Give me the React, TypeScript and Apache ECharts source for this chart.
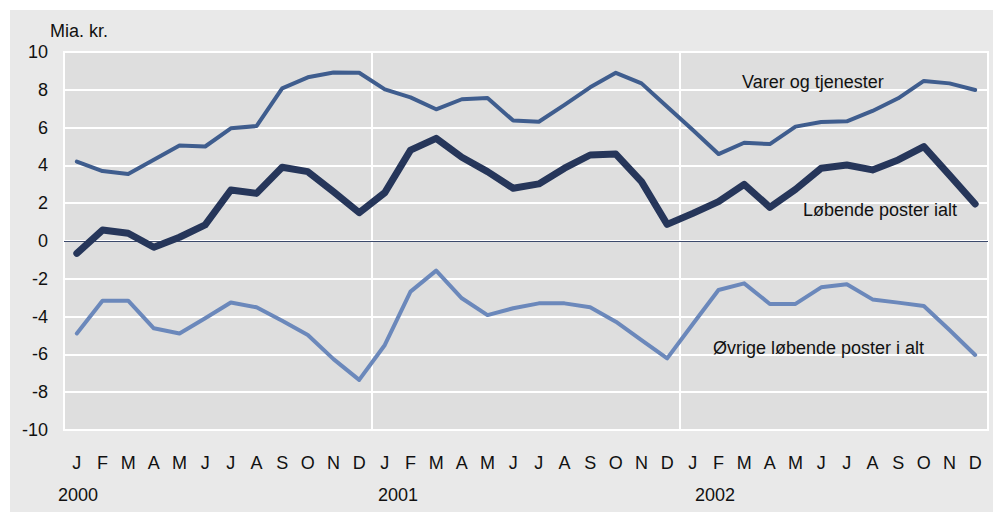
import React, { useEffect, useRef } from "react";
import * as echarts from "echarts";

const months = ["J","F","M","A","M","J","J","A","S","O","N","D"];
const categories: string[] = [...months, ...months, ...months];
const yearLabels = ["2000", "2001", "2002"];

const varerOgTjenester = [
  4.2, 3.7, 3.55, 4.3, 5.05, 5.0, 5.96, 6.08, 8.08, 8.66, 8.92, 8.9,
  8.02, 7.6, 6.97, 7.5, 7.57, 6.37, 6.31, 7.2, 8.13, 8.9, 8.34, 7.1,
  5.87, 4.6, 5.2, 5.13, 6.05, 6.3, 6.33, 6.88, 7.55, 8.47, 8.34, 7.99,
];
const lobendePosterIalt = [
  -0.65, 0.58, 0.41, -0.33, 0.2, 0.85, 2.7, 2.52, 3.9, 3.67, 2.6, 1.5,
  2.56, 4.81, 5.43, 4.43, 3.67, 2.79, 3.02, 3.85, 4.55, 4.6, 3.14, 0.88,
  1.46, 2.08, 3.0, 1.78, 2.73, 3.85, 4.02, 3.76, 4.29, 4.99, 3.49, 1.96,
];
const ovrigeLobendePoster = [
  -4.89, -3.16, -3.16, -4.62, -4.89, -4.09, -3.25, -3.51, -4.22, -4.97, -6.25, -7.35,
  -5.5, -2.68, -1.57, -3.03, -3.92, -3.56, -3.3, -3.3, -3.51, -4.27, -5.24, -6.21,
  -4.39, -2.59, -2.24, -3.33, -3.33, -2.45, -2.29, -3.09, -3.26, -3.44, -4.71, -6.03,
];

const FONT = "'Liberation Sans', Arial, sans-serif";
const TXT = "#111111";

export default function App() {
  const ref = useRef<HTMLDivElement>(null);
  useEffect(() => {
    if (!ref.current) return;
    const chart = echarts.init(ref.current, undefined, { renderer: "svg" });
    const option: any = {
      animation: false,
      backgroundColor: "#ffffff",
      textStyle: { fontFamily: FONT },
      graphic: [
        { type: "rect", z: -10, shape: { x: 10, y: 10, width: 983, height: 502 }, style: { fill: "#e9e9e9" }, silent: true },
        { type: "text", x: 50, y: 31, style: { text: "Mia. kr.", font: `18px ${FONT}`, fill: TXT, verticalAlign: "middle" } },
        { type: "text", x: 58, y: 495, style: { text: yearLabels[0], font: `18px ${FONT}`, fill: TXT, verticalAlign: "middle" } },
        { type: "text", x: 378, y: 495, style: { text: yearLabels[1], font: `18px ${FONT}`, fill: TXT, verticalAlign: "middle" } },
        { type: "text", x: 695, y: 495, style: { text: yearLabels[2], font: `18px ${FONT}`, fill: TXT, verticalAlign: "middle" } },
        { type: "text", x: 742, y: 82, z: 100, style: { text: "Varer og tjenester", font: `18px ${FONT}`, fill: TXT, verticalAlign: "middle" } },
        { type: "text", x: 803, y: 210, z: 100, style: { text: "Løbende poster ialt", font: `18px ${FONT}`, fill: TXT, verticalAlign: "middle" } },
        { type: "text", x: 713, y: 348, z: 100, style: { text: "Øvrige løbende poster i alt", font: `18px ${FONT}`, fill: TXT, verticalAlign: "middle" } },
      ],
      grid: {
        left: 64, top: 52, right: 9, bottom: 82,
        show: true, backgroundColor: "#dedede", borderColor: "#ffffff", borderWidth: 2,
        containLabel: false,
      },
      xAxis: {
        type: "category",
        data: categories,
        boundaryGap: true,
        axisLine: { show: false },
        axisTick: { show: false },
        axisLabel: { interval: 0, margin: 24, fontSize: 18, color: TXT, fontFamily: FONT },
        splitLine: {
          show: true,
          interval: (index: number) => index % 12 === 0,
          lineStyle: { color: "#ffffff", width: 2 },
        },
      },
      yAxis: {
        type: "value",
        min: -10, max: 10, interval: 2,
        axisLine: { show: false },
        axisTick: { show: false },
        axisLabel: { margin: 16, fontSize: 18, color: TXT, fontFamily: FONT },
        splitLine: { show: true, lineStyle: { color: "#ffffff", width: 2 } },
      },
      series: [
        {
          name: "Øvrige løbende poster i alt",
          type: "line",
          data: ovrigeLobendePoster,
          symbol: "none",
          lineStyle: { color: "#6b88bb", width: 4, join: "round", cap: "round" },
          markLine: {
            silent: true,
            symbol: "none",
            label: { show: false },
            lineStyle: { color: "#3c4a6c", width: 1, type: "solid" },
            data: [{ yAxis: 0 }],
            z: 1,
          },
          z: 2,
        },
        {
          name: "Varer og tjenester",
          type: "line",
          data: varerOgTjenester,
          symbol: "none",
          lineStyle: { color: "#3f5d8e", width: 4, join: "round", cap: "round" },
          z: 3,
        },
        {
          name: "Løbende poster ialt",
          type: "line",
          data: lobendePosterIalt,
          symbol: "none",
          lineStyle: { color: "#26365a", width: 7, join: "round", cap: "round" },
          z: 4,
        },
      ],
    };
    chart.setOption(option);
    return () => chart.dispose();
  }, []);
  return (
    <div
      ref={ref}
      style={{ position: "fixed", left: 0, top: 0, width: 997, height: 512 }}
    />
  );
}
